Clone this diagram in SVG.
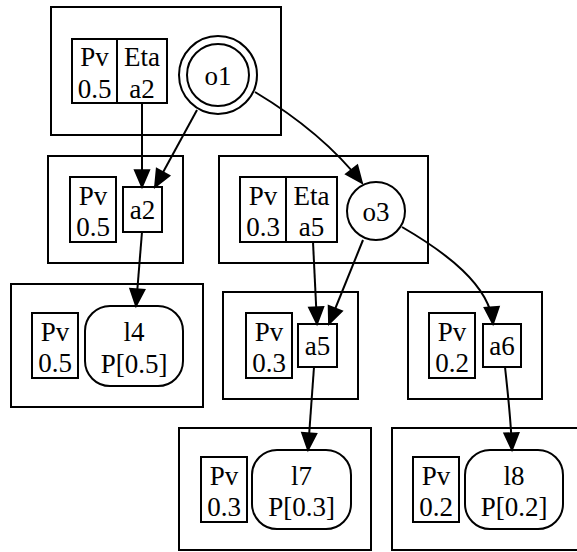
<svg xmlns="http://www.w3.org/2000/svg" width="577" height="552" viewBox="0 0 577 552">
<style>
.b { fill: none; stroke: #000; stroke-width: 2; }
.bg { fill: #fff; stroke: none; }
text { font-family: "Liberation Serif", "Times New Roman", serif; font-size: 27px; text-anchor: middle; fill: #000; }
.edge { fill: none; stroke: #000; stroke-width: 2; marker-end: url(#arr); }
</style>
<defs>
<marker id="arr" markerUnits="userSpaceOnUse" markerWidth="24" markerHeight="24" refX="14" refY="0" viewBox="-2 -9 20 18" orient="auto" overflow="visible">
<path d="M0,-6 L14,0 L0,6 Z" fill="#000" stroke="#000" stroke-width="1.5"/>
</marker>
</defs>
<rect class="bg" x="0" y="0" width="577" height="552"/>

<g id="cluster_o1">
<rect class="b" x="51" y="7" width="230" height="128"/>
<g id="t1">
<rect class="b" x="72" y="39" width="95" height="64"/>
<line class="b" x1="117" y1="39" x2="117" y2="103"/>
<text x="94.5" y="66">Pv</text><text x="94.5" y="97.5">0.5</text>
<text x="142" y="66">Eta</text><text x="142" y="97.5">a2</text>
</g>
<g id="o1">
<circle class="b" cx="218" cy="75" r="39"/>
<circle class="b" cx="218" cy="75" r="31"/>
<text x="218" y="84.5">o1</text>
</g>
</g>

<g id="cluster_a2">
<rect class="b" x="48" y="156" width="135" height="107"/>
<g id="t2">
<rect class="b" x="70" y="177" width="46" height="65"/>
<text x="93" y="204.5">Pv</text><text x="93" y="236">0.5</text>
</g>
<g id="a2">
<rect class="b" x="123" y="187" width="39" height="45"/>
<text x="142.5" y="219">a2</text>
</g>
</g>

<g id="cluster_o3">
<rect class="b" x="219" y="156" width="209" height="107"/>
<g id="t3">
<rect class="b" x="240" y="177" width="97" height="65"/>
<line class="b" x1="286" y1="177" x2="286" y2="242"/>
<text x="263" y="204.5">Pv</text><text x="263" y="236">0.3</text>
<text x="311.5" y="204.5">Eta</text><text x="311.5" y="236">a5</text>
</g>
<g id="o3">
<circle class="b" cx="376" cy="211" r="29"/>
<text x="376" y="220.5">o3</text>
</g>
</g>

<g id="cluster_l4">
<rect class="b" x="11" y="284" width="192" height="123"/>
<g id="t4">
<rect class="b" x="32" y="313" width="46" height="65"/>
<text x="55" y="340.5">Pv</text><text x="55" y="372">0.5</text>
</g>
<g id="l4">
<rect class="b" x="85" y="306" width="98" height="80" rx="25" ry="25"/>
<text x="134" y="341">l4</text><text x="134" y="372.5">P[0.5]</text>
</g>
</g>

<g id="cluster_a5">
<rect class="b" x="223" y="292" width="135" height="107"/>
<g id="t5">
<rect class="b" x="246" y="313" width="46" height="65"/>
<text x="269" y="340.5">Pv</text><text x="269" y="372">0.3</text>
</g>
<g id="a5">
<rect class="b" x="298" y="324" width="39" height="43"/>
<text x="317.5" y="355">a5</text>
</g>
</g>

<g id="cluster_a6">
<rect class="b" x="408" y="292" width="134" height="107"/>
<g id="t6">
<rect class="b" x="429" y="313" width="46" height="65"/>
<text x="452" y="340.5">Pv</text><text x="452" y="372">0.2</text>
</g>
<g id="a6">
<rect class="b" x="483" y="324" width="38" height="43"/>
<text x="502" y="355">a6</text>
</g>
</g>

<g id="cluster_l7">
<rect class="b" x="179" y="428" width="192" height="122"/>
<g id="t7">
<rect class="b" x="201" y="457" width="46" height="65"/>
<text x="224" y="484.5">Pv</text><text x="224" y="516">0.3</text>
</g>
<g id="l7">
<rect class="b" x="252" y="450" width="99" height="79" rx="25" ry="25"/>
<text x="301.5" y="484.5">l7</text><text x="301.5" y="516">P[0.3]</text>
</g>
</g>

<g id="cluster_l8">
<rect class="b" x="392" y="428" width="192" height="122"/>
<g id="t8">
<rect class="b" x="413" y="457" width="46" height="65"/>
<text x="436" y="484.5">Pv</text><text x="436" y="516">0.2</text>
</g>
<g id="l8">
<rect class="b" x="465" y="450" width="98" height="79" rx="25" ry="25"/>
<text x="514" y="484.5">l8</text><text x="514" y="516">P[0.2]</text>
</g>
</g>

<g id="edges">
<path class="edge" d="M142,103 L142,187"/>
<path class="edge" d="M197,110 L155,187"/>
<path class="edge" d="M255,92 C290,113 330,142 362,183"/>
<path class="edge" d="M142,232 L136,306"/>
<path class="edge" d="M313,242 L317,324"/>
<path class="edge" d="M363,240 L329,324"/>
<path class="edge" d="M402,227 C445,252 490,285 493,324"/>
<path class="edge" d="M314,367 L308,450"/>
<path class="edge" d="M505,367 C508,395 511,420 512,450"/>
</g>
</svg>
